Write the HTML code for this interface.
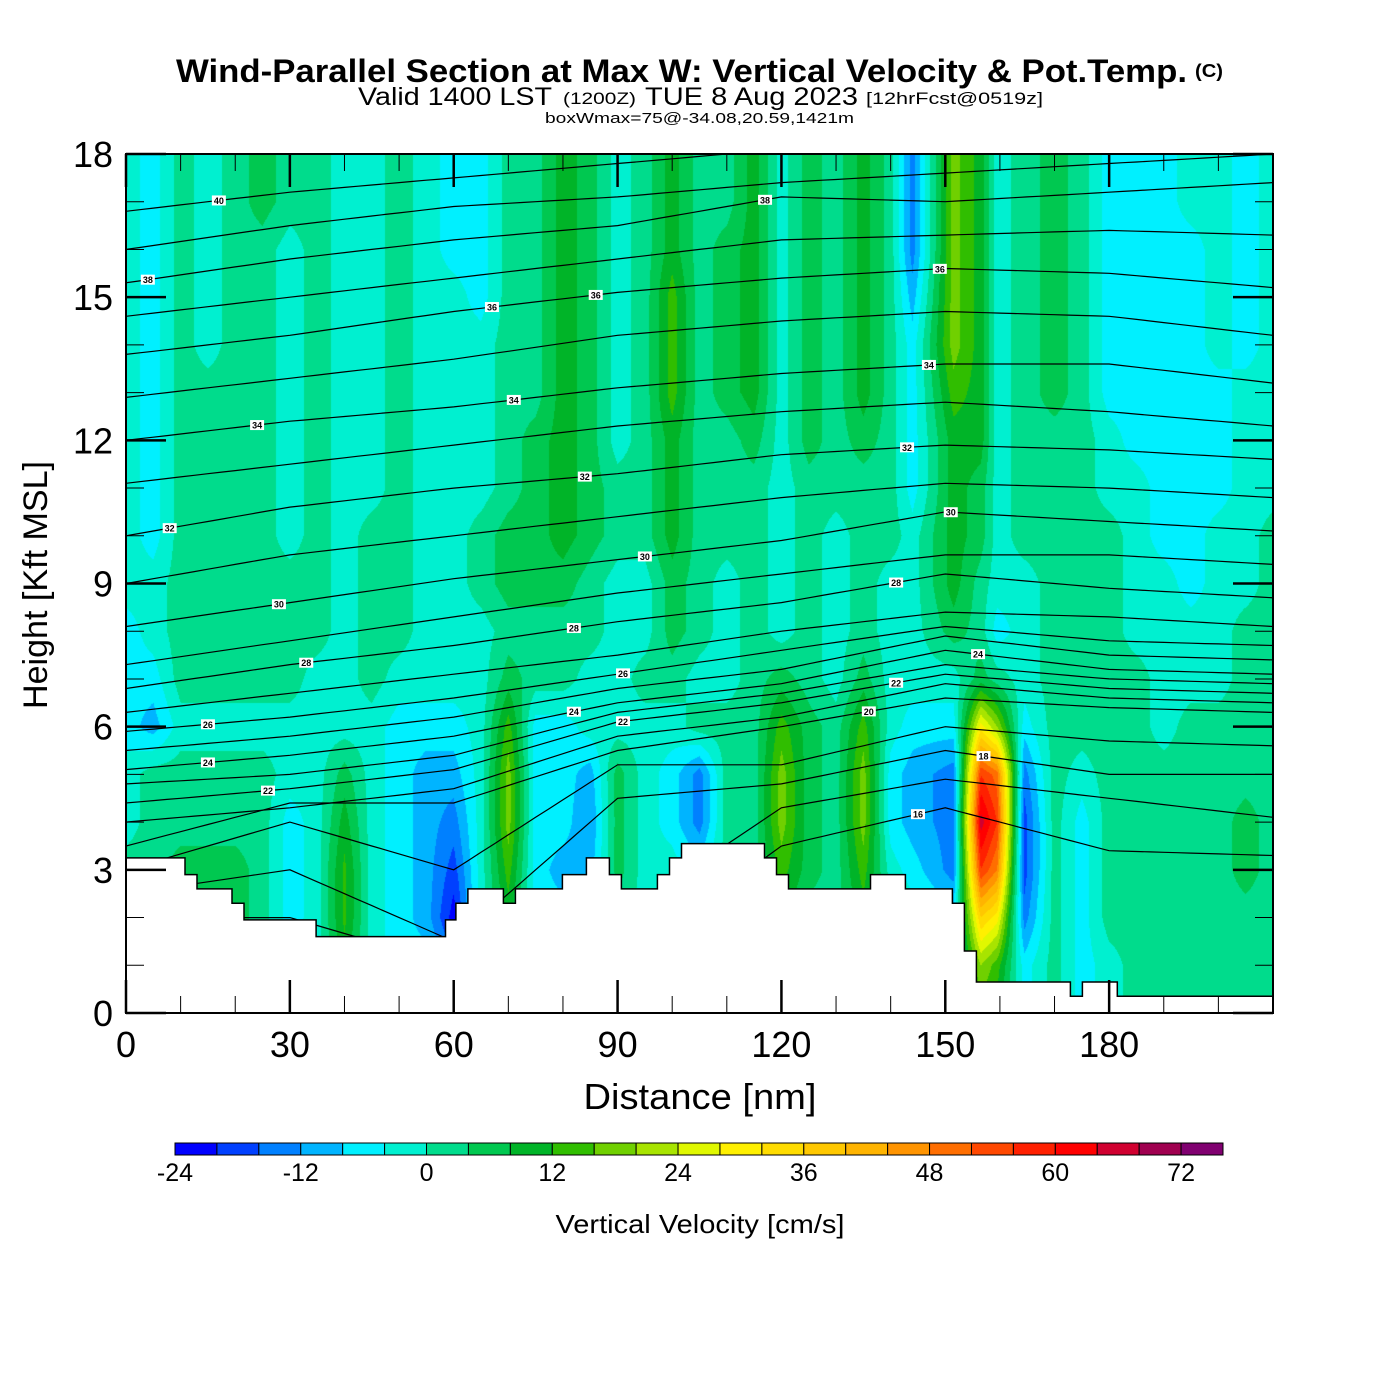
<!DOCTYPE html>
<html><head><meta charset="utf-8">
<style>
html,body{margin:0;padding:0;background:#fff;}
#wrap{position:relative;width:1400px;height:1400px;overflow:hidden;font-family:"Liberation Sans",sans-serif;}
#field{position:absolute;left:126px;top:154px;}
#ov{position:absolute;left:0;top:0;}
</style></head>
<body>
<div id="wrap">
<canvas id="field" width="1147" height="859"></canvas>
<svg id="ov" width="1400" height="1400" xmlns="http://www.w3.org/2000/svg">
<g font-family="Liberation Sans, sans-serif" fill="#000">
<text x="176" y="82" font-size="32" font-weight="bold" textLength="1011" lengthAdjust="spacingAndGlyphs">Wind-Parallel Section at Max W: Vertical Velocity &amp; Pot.Temp.</text>
<text x="1195" y="77" font-size="18" font-weight="bold" textLength="28" lengthAdjust="spacingAndGlyphs">(C)</text>
<text x="358" y="105" font-size="25" textLength="194" lengthAdjust="spacingAndGlyphs">Valid 1400 LST</text>
<text x="563" y="104" font-size="17" textLength="73" lengthAdjust="spacingAndGlyphs">(1200Z)</text>
<text x="645" y="105" font-size="25" textLength="213" lengthAdjust="spacingAndGlyphs">TUE 8 Aug 2023</text>
<text x="866" y="104" font-size="17" textLength="177" lengthAdjust="spacingAndGlyphs">[12hrFcst@0519z]</text>
<text x="545" y="123" font-size="15" textLength="309" lengthAdjust="spacingAndGlyphs">boxWmax=75@-34.08,20.59,1421m</text>
<text x="700" y="1109" font-size="36" text-anchor="middle" textLength="233" lengthAdjust="spacingAndGlyphs">Distance [nm]</text>
<text transform="translate(47,585) rotate(-90)" font-size="34" text-anchor="middle" textLength="248" lengthAdjust="spacingAndGlyphs">Height [Kft MSL]</text>
<text x="700" y="1233" font-size="26" text-anchor="middle" textLength="289" lengthAdjust="spacingAndGlyphs">Vertical Velocity [cm/s]</text>
</g>
<g id="contours"></g>
<g id="terrain"></g>
<g id="labels"></g>
<g id="axes"></g>
<g id="cbar"></g>
</svg>
</div>
<script>
// ---- data ----
const xNodes = [0,5,10,15,20,25,30,35,40,45,50,55,60,65,70,75,80,85,90,95,100,105,110,115,120,125,130,135,140,144,151.5,156.5,159.5,164.5,170,175,180,185,190,195,200,205,210];
const wZ18=[-2,-6,2,-2,2,6,2,2,-2,-2,2,-2,-6,-6,2,2,10,6,-2,2,10,2,2,10,-2,6,2,10,2,-14,18,10,-2,2,6,2,-6,-6,-6,-2,-2,-6,-2];
const wZ17=[-2,-6,2,-2,2,6,2,2,-2,-2,2,-2,-6,-6,2,2,10,6,-2,2,10,2,2,10,-2,6,2,10,2,-14,18,10,-2,2,6,2,-6,-6,-6,-2,-2,-6,-2];
const wZ16=[-2,-6,2,-2,2,2,-2,2,-2,-2,2,-2,-6,-6,2,2,10,6,-2,2,10,2,6,10,-2,6,2,10,2,-14,18,10,-2,2,6,2,-6,-6,-6,-6,-2,-6,-2];
const wZ15=[-2,-6,2,-2,2,2,-2,2,-2,-2,2,-2,-2,-6,2,2,10,6,-2,2,14,2,6,10,-2,6,2,10,2,-10,18,10,-2,2,6,2,-6,-6,-6,-6,-2,-6,-2];
const wZ14=[-2,-6,2,-2,2,2,-2,2,-2,-2,2,-2,-2,-2,2,2,10,6,-2,2,14,2,6,10,-2,6,2,10,2,-6,18,10,-2,2,6,2,-6,-6,-6,-6,-2,-6,-2];
const wZ13=[-2,-6,2,2,2,2,-2,2,-2,-2,2,-2,-2,-2,2,2,10,6,-2,2,14,2,6,10,-2,6,2,10,2,-6,14,10,-2,2,6,2,-6,-6,-6,-6,-6,-2,-2];
const wZ12=[-2,-6,2,2,2,2,-2,2,-2,-2,2,-2,-2,-2,2,6,10,6,-2,2,10,2,2,6,-2,6,2,6,2,-6,10,10,-2,2,2,2,-2,-6,-6,-6,-6,-2,-2];
const wZ11=[-2,-6,2,2,2,2,-2,2,-2,-2,2,-2,-2,-2,2,6,10,6,2,2,10,2,2,2,-2,2,2,2,2,-6,10,6,-2,2,2,2,-2,-2,-6,-6,-6,-2,-2];
const wZ10=[-2,-6,2,2,2,2,-2,2,-2,2,2,-2,-2,2,6,6,10,6,2,2,10,2,2,2,-2,2,-2,2,2,-2,10,6,-2,2,2,2,2,-2,-6,-6,-2,-2,2];
const wZ9 =[-2,-2,2,2,2,2,2,2,-2,2,2,-2,-2,2,6,6,6,2,-2,-2,6,2,-2,2,-2,2,-2,2,-2,-2,10,2,-2,-2,2,2,2,-2,-2,-6,-2,-2,2];
const wZ8 =[-6,-2,2,2,2,2,2,2,-2,2,2,-2,-2,-2,2,2,2,2,-2,-2,6,2,-2,2,-2,2,-2,2,-2,-2,6,2,-6,-2,2,2,2,-2,-2,-2,-2,2,2];
const wZ7 =[-6,-6,2,2,2,2,2,-2,-2,2,-2,-2,-2,-2,6,2,2,-2,-2,2,2,-2,-2,2,6,2,-2,6,-2,-2,-2,6,2,-2,2,2,2,2,-2,-2,-2,2,2];
const wZ6 =[-6,-10,-2,-2,-2,-2,-2,-2,-2,-2,-6,-6,-6,-2,14,-6,-6,-2,-2,-2,-2,2,2,2,14,6,2,14,-2,-6,-6,30,20,-6,2,2,2,2,-2,2,2,2,2];
const wZ5 =[-2,2,2,2,2,2,-2,-2,6,-2,-6,-10,-10,-2,18,-6,-6,-10,6,-2,-6,-14,2,2,18,6,2,18,-6,-10,-14,56,50,-14,2,-2,2,2,2,2,2,2,2];
const wZ4 =[-2,2,2,2,2,2,-6,-2,10,-2,-6,-10,-14,-2,18,-6,-6,-12,6,-2,-6,-14,2,2,18,6,2,18,-6,-10,-14,66,56,-18,2,-6,2,2,2,2,2,6,2];
const wZ3 =[2,2,6,6,6,2,-6,-2,13,-2,-6,-10,-18,-2,14,-6,-10,-10,6,-2,-2,-6,2,2,14,6,2,14,-2,-6,-14,56,48,-18,2,-6,2,2,2,2,2,6,2];
const wZ2 =[2,2,6,6,6,2,-6,-2,13,-2,-6,-10,-22,-2,10,-6,-6,-6,2,-2,-2,2,2,2,10,2,2,10,2,-2,-6,36,30,-14,2,-6,2,2,2,2,2,2,2];
const wZ1 =[2,2,6,6,6,2,-2,-2,10,-2,-6,-6,-14,-2,6,-2,-2,-2,2,2,2,2,2,2,6,2,2,6,2,-2,-2,20,14,-6,2,-6,-2,2,2,2,2,2,2];
const wZ0 =[2,2,6,6,6,2,-2,-2,10,-2,-6,-6,-14,-2,6,-2,-2,-2,2,2,2,2,2,2,6,2,2,6,2,-2,-2,14,10,-6,2,-6,-2,2,2,2,2,2,2];
const wRows=[wZ18,wZ17,wZ16,wZ15,wZ14,wZ13,wZ12,wZ11,wZ10,wZ9,wZ8,wZ7,wZ6,wZ5,wZ4,wZ3,wZ2,wZ1,wZ0];

const binColors=["#0000ff","#0040ff","#0080ff","#00b4ff","#00f0ff","#00f0d0","#00dc8c","#00c850","#00b428","#30be00","#70d000","#a8e400","#e0f800","#fff000","#ffdc00","#ffc800","#ffb400","#ff9400","#ff6e00","#ff4800","#ff2000","#ff0000","#d00030","#a00050","#800070"];
const cbLabels=[-24,-12,0,12,24,36,48,60,72];

const thetaNodesX=[0,30,60,90,120,150,180,210];
const thetaLevels=[41,40,39,38,37,36,35,34,33,32,31,30,29,28,27,26,25,24,23,22,21,20,19,18,17,16];
const thetaHeights=[
[18.3,18.7,19,19,19,19,19,19],
[16.8,17.2,17.5,17.8,18.1,18.4,18.6,18.8],
[16.0,16.5,16.9,17.1,17.4,17.6,17.8,18.0],
[15.3,15.8,16.2,16.5,17.1,17.0,17.2,17.4],
[14.6,15.0,15.4,15.8,16.2,16.3,16.4,16.3],
[13.8,14.2,14.7,15.1,15.4,15.6,15.5,15.2],
[12.9,13.3,13.7,14.2,14.5,14.7,14.6,14.2],
[12.0,12.4,12.7,13.1,13.4,13.6,13.6,13.2],
[11.1,11.5,11.9,12.3,12.6,12.8,12.6,12.3],
[10.0,10.6,11.0,11.3,11.7,11.9,11.8,11.6],
[9.0,9.6,10.0,10.4,10.8,11.1,11.0,10.8],
[8.1,8.6,9.1,9.5,9.9,10.5,10.3,10.1],
[7.3,7.8,8.3,8.8,9.2,9.6,9.6,9.4],
[6.8,7.3,7.7,8.2,8.6,9.2,8.9,8.7],
[6.3,6.7,7.1,7.5,8.0,8.4,8.3,8.1],
[5.9,6.2,6.6,7.1,7.6,8.1,7.8,7.7],
[5.5,5.8,6.2,6.8,7.2,7.9,7.5,7.4],
[5.1,5.4,5.8,6.5,6.9,7.6,7.2,7.1],
[4.8,5.0,5.4,6.3,6.7,7.3,7.0,6.9],
[4.4,4.7,5.1,6.1,6.5,7.1,6.8,6.7],
[4.0,4.3,4.7,5.8,6.2,6.9,6.6,6.5],
[3.5,4.4,4.4,5.5,6.0,6.6,6.4,6.3],
[3.0,4.0,3.0,5.2,5.2,6.0,5.7,5.6],
[2.5,3.0,1.5,4.5,4.8,5.5,5.0,5.0],
[2.0,2.0,1.0,2.0,4.3,4.9,4.5,4.1],
[1.5,1.5,1.0,1.0,3.5,4.3,3.4,3.3]];
const labelTheta=[40,38,38,36,36,36,34,34,34,32,32,32,30,30,30,28,28,28,26,26,24,24,24,22,22,22,20,18,16];
const labelX=[17,4,117,67,86,149,24,71,147,8,84,143,28,95,151,33,82,141,15,91,15,82,156,26,91,141,136,157,145];

const terrainStart=[0,10.8,13.0,19.4,21.6,34.8,58.5,60.4,62.6,69.1,71.3,79.9,84.3,88.5,90.7,97.3,99.5,101.7,116.9,119.1,121.3,136.3,142.7,151.3,153.5,155.7,172.9,175.1,181.5];
const terrainHeight=[3.25,2.9,2.6,2.3,1.95,1.6,1.95,2.3,2.6,2.3,2.6,2.9,3.25,2.9,2.6,2.9,3.25,3.55,3.25,2.9,2.6,2.9,2.6,2.3,1.3,0.65,0.35,0.65,0.35];

const xTicksMajor=[0,30,60,90,120,150,180];
const yTicksMajor=[0,3,6,9,12,15,18];

// ---- scales ----
const X0=126,X1=1273,Y0=1013,Y1=154,XMAX=210,ZMAX=18;
function sx(x){return X0+x*(X1-X0)/XMAX;}
function sy(z){return Y0-z*(Y0-Y1)/ZMAX;}
function binOf(v){let b=Math.floor((v+24)/4);return Math.max(0,Math.min(24,b));}
const NS='http://www.w3.org/2000/svg';
function mk(tag,attrs,parent){const e=document.createElementNS(NS,tag);for(const k in attrs)e.setAttribute(k,attrs[k]);parent.appendChild(e);return e;}

// ---- field ----
(function(){
  const cv=document.getElementById('field');const ctx=cv.getContext('2d');
  const W=cv.width,H=cv.height;const img=ctx.createImageData(W,H);
  const rgb=binColors.map(c=>[parseInt(c.substr(1,2),16),parseInt(c.substr(3,2),16),parseInt(c.substr(5,2),16)]);
  const nC=xNodes.length,nR=wRows.length;
  const colIdx=[],colFrac=[];
  for(let i=0;i<W;i++){
    const x=(i+0.5)/W*XMAX; let c0=0;
    while(c0<nC-2 && x>xNodes[c0+1]) c0++;
    colIdx.push(c0); colFrac.push(Math.max(0,Math.min(1,(x-xNodes[c0])/(xNodes[c0+1]-xNodes[c0]))));
  }
  for(let j=0;j<H;j++){
    const z=ZMAX-(j+0.5)/H*ZMAX; const r=(ZMAX-z); let r0=Math.floor(r); if(r0>nR-2)r0=nR-2; const fr=r-r0;
    for(let i=0;i<W;i++){
      const c0=colIdx[i],fc=colFrac[i];
      const a=wRows[r0][c0],b=wRows[r0][c0+1],d=wRows[r0+1][c0],e=wRows[r0+1][c0+1];
      const v=(a*(1-fc)+b*fc)*(1-fr)+(d*(1-fc)+e*fc)*fr;
      const col=rgb[binOf(v)]; const p=(j*W+i)*4;
      img.data[p]=col[0];img.data[p+1]=col[1];img.data[p+2]=col[2];img.data[p+3]=255;
    }
  }
  ctx.putImageData(img,0,0);
})();

// ---- contours ----
function thetaY(idx,x){
  const h=thetaHeights[idx];
  for(let k=0;k<thetaNodesX.length-1;k++){
    if(x<=thetaNodesX[k+1]){const f=(x-thetaNodesX[k])/(thetaNodesX[k+1]-thetaNodesX[k]);return h[k]*(1-f)+h[k+1]*f;}
  }
  return h[h.length-1];
}
const cg=document.getElementById('contours');
const clip=mk('clipPath',{id:'plotclip'},mk('defs',{},document.getElementById('ov')));
mk('rect',{x:X0,y:Y1,width:X1-X0,height:Y0-Y1},clip);
cg.setAttribute('clip-path','url(#plotclip)');
for(let i=0;i<thetaLevels.length;i++){
  let d='';
  for(let x=0;x<=XMAX;x+=2.5){d+=(x===0?'M':'L')+sx(x).toFixed(1)+','+sy(thetaY(i,x)).toFixed(1);}
  const p=mk('path',{d:d,fill:'none',stroke:'#000','stroke-width':1.2},cg);
  
  
}

// ---- terrain ----
(function(){
  const tg=document.getElementById('terrain');
  let d='M'+sx(0)+','+sy(0)+' ';
  for(let i=0;i<terrainStart.length;i++){
    const xe=i<terrainStart.length-1?terrainStart[i+1]:XMAX;
    d+='L'+sx(terrainStart[i]).toFixed(1)+','+sy(terrainHeight[i]).toFixed(1)+' L'+sx(xe).toFixed(1)+','+sy(terrainHeight[i]).toFixed(1)+' ';
  }
  d+='L'+sx(XMAX)+','+sy(0)+' Z';
  const p=mk('path',{d:d,fill:'#fff',stroke:'#000','stroke-width':1.5},tg);
  
  
})();

// ---- theta labels ----
(function(){
  const lg=document.getElementById('labels');
  for(let i=0;i<labelTheta.length;i++){
    const idx=thetaLevels.indexOf(labelTheta[i]); if(idx<0)continue;
    const x=sx(labelX[i]),y=sy(thetaY(idx,labelX[i]));
    const g=mk('g',{},lg);
    
    
    mk('rect',{x:x-7,y:y-5,width:14,height:10,fill:'#fff'},g);
    const t=mk('text',{x:x,y:y+3.5,'font-size':9,'font-weight':'bold','text-anchor':'middle','font-family':'Liberation Sans, sans-serif'},g);
    t.textContent=labelTheta[i];
  }
})();

// ---- axes ----
(function(){
  const ag=document.getElementById('axes');
  const fr=mk('rect',{x:X0,y:Y1,width:X1-X0,height:Y0-Y1,fill:'none',stroke:'#000','stroke-width':2},ag);
  
  
  for(let x=0;x<=XMAX;x+=10){
    const maj=xTicksMajor.indexOf(x)>=0; const L=maj?33:17; const w=maj?2.5:1;
    mk('line',{x1:sx(x),x2:sx(x),y1:Y0,y2:Y0-L,stroke:'#000','stroke-width':w},ag);
    mk('line',{x1:sx(x),x2:sx(x),y1:Y1,y2:Y1+L,stroke:'#000','stroke-width':w},ag);
  }
  xTicksMajor.forEach(v=>{
    const t=mk('text',{x:sx(v),y:1057,'font-size':36,'text-anchor':'middle','font-family':'Liberation Sans, sans-serif'},ag);
    
    
    t.textContent=v;
  });
  for(let z=0;z<=ZMAX;z+=1){
    const maj=yTicksMajor.indexOf(z)>=0; const L=maj?40:18; const w=maj?2.5:1;
    mk('line',{x1:X0,x2:X0+L,y1:sy(z),y2:sy(z),stroke:'#000','stroke-width':w},ag);
    mk('line',{x1:X1,x2:X1-L,y1:sy(z),y2:sy(z),stroke:'#000','stroke-width':w},ag);
  }
  yTicksMajor.forEach(v=>{
    const t=mk('text',{x:113,y:sy(v)+13,'font-size':36,'text-anchor':'end','font-family':'Liberation Sans, sans-serif'},ag);
    
    
    t.textContent=v;
  });
})();

// ---- colorbar ----
(function(){
  const g=document.getElementById('cbar');
  const cx=v=>175+(v+24)/100*1048;
  for(let i=0;i<binColors.length;i++){
    const r=mk('rect',{x:cx(-24+4*i),y:1143,width:1048/25,height:12,fill:binColors[i],stroke:'#000','stroke-width':1},g);
    
    
  }
  cbLabels.forEach(v=>{
    const t=mk('text',{x:cx(v),y:1181,'font-size':25,'text-anchor':'middle','font-family':'Liberation Sans, sans-serif'},g);
    
    
    t.textContent=v;
  });
})();
</script>
</body></html>
